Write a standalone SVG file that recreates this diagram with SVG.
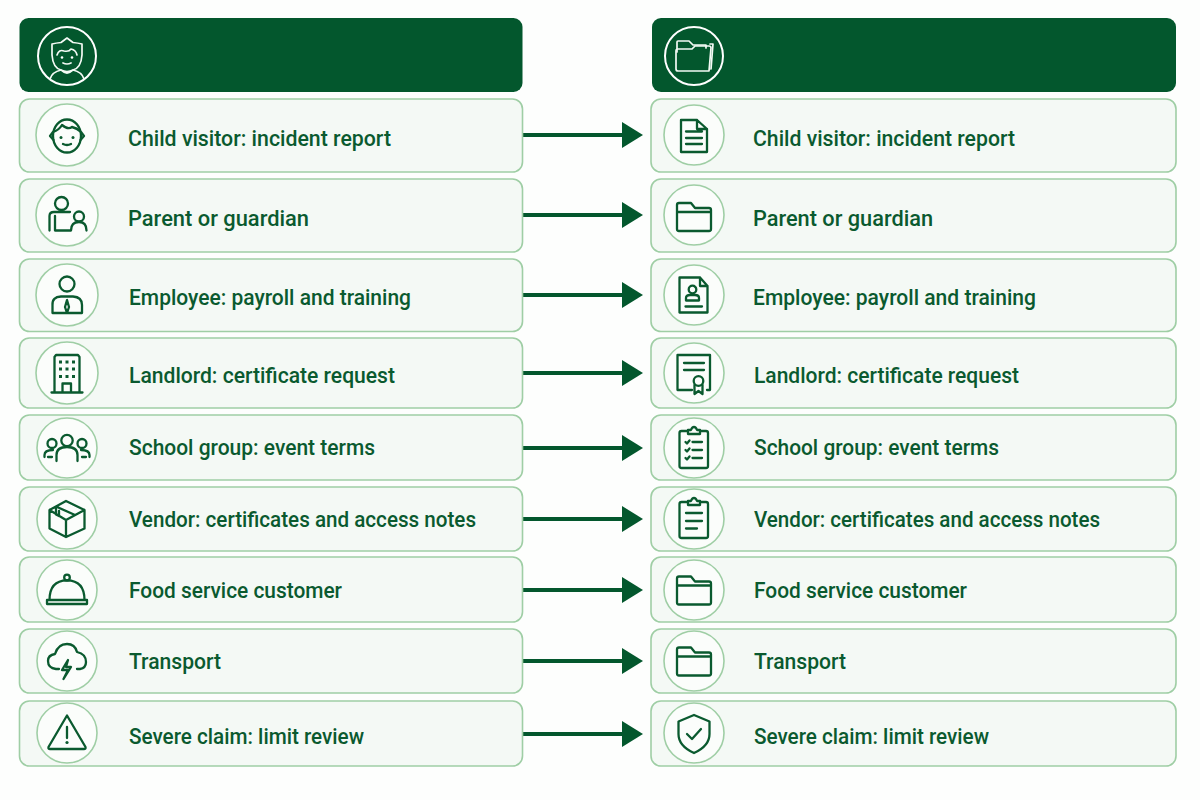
<svg xmlns="http://www.w3.org/2000/svg" width="1200" height="800" viewBox="0 0 1200 800">
<style>
.hdr{fill:#03572d}
.row{fill:#f4f9f5;stroke:#9fcea5;stroke-width:1.600}
.disc{fill:#fbfdfb;stroke:#9fcea5;stroke-width:1.600}
.hdisc{fill:none;stroke:#fff;stroke-width:2}
.ic{fill:none;stroke:#0a5a2f;stroke-width:2.300;stroke-linecap:round;stroke-linejoin:round}
.ih{fill:none;stroke:#f4faf5;stroke-width:1.700;stroke-linecap:round;stroke-linejoin:round}
.dot{fill:#0a5a2f;stroke:none}
.hd{fill:#fff;stroke:none}
.lb{font-family:Roboto,"Liberation Sans",sans-serif;font-weight:500;font-size:22px;fill:#0a5a2f}
.ln{stroke:#03572d;stroke-width:4;fill:none;marker-end:url(#ah)}
</style>
<defs>
<marker id="ah" markerUnits="userSpaceOnUse" markerWidth="21" markerHeight="26" refX="0" refY="13" orient="auto"><path d="M0 0L21 13L0 26Z" fill="#03572d"/></marker>
<g id="folder"><path class="ic" d="M-17 14V-10Q-17 -12 -15 -12H-3L1 -7H15Q17 -7 17 -5V14Q17 16 15 16H-15Q-17 16 -17 14ZM-17 -3H17"/></g>
</defs>
<rect width="1200" height="800" fill="#fdfefd"/>
<g id="connectors">
<path class="ln" d="M523 135H622"/>
<path class="ln" d="M523 215H622"/>
<path class="ln" d="M523 295H622"/>
<path class="ln" d="M523 373H622"/>
<path class="ln" d="M523 448H622"/>
<path class="ln" d="M523 519H622"/>
<path class="ln" d="M523 590H622"/>
<path class="ln" d="M523 661H622"/>
<path class="ln" d="M523 734H622"/>
</g>
<g id="header-left">
<rect class="hdr" x="19.500" y="18" width="503" height="74" rx="9"/>
<circle class="hdisc" cx="67" cy="56" r="29"/>
<g transform="translate(67 56)">
<path class="ih" d="M0 -18L-6 -13.500Q-11 -13 -15 -12V-1Q-14 12 -6 14Q0 17 6 14Q14 12 15 -1V-12Q11 -13 6 -13.500Z"/>
<path class="ih" d="M-10 -1Q-8 -7 -3 -5Q2 -4 4 -7Q9 -6 10 -1"/>
<path class="ih" d="M-4 7Q0 9 4 7"/>
<circle class="hd" cx="-5" cy="1.500" r="1.300"/><circle class="hd" cx="5" cy="1.500" r="1.300"/>
<path class="ih" d="M-17 23Q-15 16 -6 14Q0 20 6 14Q15 16 17 23"/>
</g>
</g>
<g id="header-right">
<rect class="hdr" x="652" y="18" width="524" height="74" rx="9"/>
<circle class="hdisc" cx="694" cy="56" r="29"/>
<g transform="translate(694 56)">
<path class="ih" d="M-17 -4V-14Q-17 -15 -16 -15H-5L-1 -11H12V-8"/>
<path class="ih" d="M-16 15Q-18 15 -18 13V-5Q-18 -7 -16 -7H-2L1 -10H15Q17 -10 17 -8L15 15Z"/>
<path class="ih" d="M16 -12H19L17 13"/>
</g>
</g>
<g id="l1"><rect class="row" x="19.500" y="99" width="503" height="73" rx="10"/><circle class="disc" cx="67" cy="135" r="31"/>
<g transform="translate(67 135)"><ellipse class="ic" cx="0" cy="1" rx="14" ry="16.500"/><path class="ic" d="M-14 -3L-17 1L-13.500 5M14 -3L17 1L13.500 5M-14 -3Q-8 -5 -5 -10Q1 -5 5 -8Q10 -7 14 -3"/><path class="ic" d="M-4 9Q0 11 4 9"/><circle class="dot" cx="-6" cy="2.500" r="1.500"/><circle class="dot" cx="6" cy="2.500" r="1.500"/></g>
<text class="lb" x="128" y="146" textLength="263" lengthAdjust="spacingAndGlyphs">Child visitor: incident report</text></g>
<g id="l2"><rect class="row" x="19.500" y="179" width="503" height="73" rx="10"/><circle class="disc" cx="67" cy="215" r="31"/>
<g transform="translate(67 215)"><circle class="ic" cx="-5.500" cy="-11.500" r="6.500"/><path class="ic" d="M-17.500 15.500V1Q-17.500 -3 -13 -3H3M-12 1V15.500H4M4 15.500Q4 7 12 7Q19.500 7 19.500 15.500"/><circle class="ic" cx="12" cy="1.500" r="5"/></g>
<text class="lb" x="128" y="226" textLength="181" lengthAdjust="spacingAndGlyphs">Parent or guardian</text></g>
<g id="l3"><rect class="row" x="19.500" y="259" width="503" height="72.500" rx="10"/><circle class="disc" cx="67" cy="295" r="31"/>
<g transform="translate(67 295)"><circle class="ic" cx="0" cy="-11" r="7.500"/><path class="ic" d="M-14.500 18H15V10Q15 2 6 1.500H-6Q-15 2 -14.500 10ZM0 5L-2 12L0 18L2 12Z"/></g>
<text class="lb" x="129" y="305" textLength="282" lengthAdjust="spacingAndGlyphs">Employee: payroll and training</text></g>
<g id="l4"><rect class="row" x="19.500" y="338" width="503" height="70" rx="10"/><circle class="disc" cx="67" cy="373" r="31"/>
<g transform="translate(67 373)"><path class="ic" d="M-12.500 19V-16L-11 -18H11L12.500 -16V19M-15.500 19.500H15.500M-4.500 19V10.500H4V19"/>
<g class="dot"><rect x="-8" y="-12.500" width="3" height="3"/><rect x="-1.500" y="-12.500" width="3" height="3"/><rect x="5" y="-12.500" width="3" height="3"/><rect x="-8" y="-5.500" width="3" height="3"/><rect x="-1.500" y="-5.500" width="3" height="3"/><rect x="5" y="-5.500" width="3" height="3"/><rect x="-8" y="2" width="3" height="3"/><rect x="-1.500" y="2" width="3" height="3"/><rect x="5" y="2" width="3" height="3"/></g></g>
<text class="lb" x="129" y="383" textLength="266" lengthAdjust="spacingAndGlyphs">Landlord: certificate request</text></g>
<g id="l5"><rect class="row" x="19.500" y="415" width="503" height="65" rx="10"/><circle class="disc" cx="67" cy="448" r="30"/>
<g transform="translate(67 448)"><circle class="ic" cx="0" cy="-7.500" r="5.700"/><circle class="ic" cx="-15" cy="-4.500" r="4.500"/><circle class="ic" cx="15" cy="-4.500" r="4.500"/><path class="ic" d="M-10.500 13V7Q-10.500 -1 0 -1Q10.500 -1 10.500 7V13M-22.500 9V7Q-22.500 2 -14 2M22.500 9V7Q22.500 2 14 2M-19 9H-15M19 9H15"/></g>
<text class="lb" x="129" y="455" textLength="246" lengthAdjust="spacingAndGlyphs">School group: event terms</text></g>
<g id="l6"><rect class="row" x="19.500" y="487" width="503" height="64" rx="10"/><circle class="disc" cx="67" cy="519" r="30"/>
<g transform="translate(67 519)"><path class="ic" d="M-1 -18L17.500 -9V9.500L-1 18L-17.500 9.500V-9ZM-17.500 -9L-1 1L17.500 -9M-1 1V18M-11 -12.500L8 -4M-11 -12.500V-4.500L-8 -3V-8"/></g>
<text class="lb" x="129" y="527" textLength="347" lengthAdjust="spacingAndGlyphs">Vendor: certificates and access notes</text></g>
<g id="l7"><rect class="row" x="19.500" y="557" width="503" height="65" rx="10"/><circle class="disc" cx="67" cy="590" r="30"/>
<g transform="translate(67 590)"><circle class="ic" cx="0" cy="-12.500" r="2.800"/><path class="ic" d="M-17.500 10Q-17.500 -9.500 0 -9.700Q17.500 -9.500 17.500 10M-20 10H20V14H-20Z"/></g>
<text class="lb" x="129" y="598" textLength="213" lengthAdjust="spacingAndGlyphs">Food service customer</text></g>
<g id="l8"><rect class="row" x="19.500" y="629" width="503" height="64" rx="10"/><circle class="disc" cx="67" cy="661" r="30"/>
<g transform="translate(67 661)"><path class="ic" d="M-8 8H-11Q-19 7 -19 0Q-19 -6 -12 -7Q-9 -17 0 -17Q8 -17 10 -9Q19 -7 19 1Q19 7 13 8H10"/><path class="ic" d="M1 -1L-5 9H1L-3.500 18L4 6H-1Z"/></g>
<text class="lb" x="129" y="669" textLength="92" lengthAdjust="spacingAndGlyphs">Transport</text></g>
<g id="l9"><rect class="row" x="19.500" y="701" width="503" height="65" rx="10"/><circle class="disc" cx="67" cy="733" r="30"/>
<g transform="translate(67 733)"><path class="ic" d="M0 -17.500L-18.500 14Q-19 16 -17 16H17Q19 16 18.500 14Z"/><path class="ic" d="M0 -6V5"/><circle class="dot" cx="0" cy="9.500" r="1.600"/></g>
<text class="lb" x="129" y="744" textLength="235" lengthAdjust="spacingAndGlyphs">Severe claim: limit review</text></g>

<g id="r1"><rect class="row" x="651" y="99" width="525" height="73" rx="10"/><circle class="disc" cx="694" cy="135" r="30"/>
<g transform="translate(694 135)"><path class="ic" d="M-13 -15H3L13 -6V17H-13ZM3 -15V-6H13M-8 -3.500H8M-8 3H8M-8 9H8"/></g>
<text class="lb" x="753" y="146" textLength="262" lengthAdjust="spacingAndGlyphs">Child visitor: incident report</text></g>
<g id="r2"><rect class="row" x="651" y="179" width="525" height="73" rx="10"/><circle class="disc" cx="694" cy="215" r="30"/>
<use href="#folder" x="694" y="215"/>
<text class="lb" x="753" y="226" textLength="180" lengthAdjust="spacingAndGlyphs">Parent or guardian</text></g>
<g id="r3"><rect class="row" x="651" y="259" width="525" height="72.500" rx="10"/><circle class="disc" cx="694" cy="295" r="30"/>
<g transform="translate(694 295)"><path class="ic" d="M-14.500 -17.500H6L13.500 -9V17.500H-14.500ZM6 -17.500V-9H13.500M-8.500 11.500H8"/><circle class="ic" cx="-1.500" cy="-5.500" r="3.800"/><path class="ic" d="M-8 5.500V3Q-8 0 -4 0H1Q5 0 5 3V5.500Z"/></g>
<text class="lb" x="753" y="305" textLength="283" lengthAdjust="spacingAndGlyphs">Employee: payroll and training</text></g>
<g id="r4"><rect class="row" x="651" y="338" width="525" height="70" rx="10"/><circle class="disc" cx="694" cy="373" r="30"/>
<g transform="translate(694 373)"><path class="ic" d="M-2 17H-16.500V-18H16V17H13M-10 -10H10M-10 -3H10"/><circle class="ic" cx="4.500" cy="8" r="4.800"/><path class="ic" d="M0.500 12V21L4.500 18L8.500 21V12"/></g>
<text class="lb" x="754" y="383" textLength="265" lengthAdjust="spacingAndGlyphs">Landlord: certificate request</text></g>
<g id="r5"><rect class="row" x="651" y="415" width="525" height="65" rx="10"/><circle class="disc" cx="694" cy="448" r="30"/>
<g transform="translate(694 448)"><path class="ic" d="M-6 -17H-12.500Q-14.500 -17 -14.500 -15V18Q-14.500 20 -12.500 20H12Q14 20 14 18V-15Q14 -17 12 -17H6"/><path class="ic" d="M-6 -14H6V-18H3Q2 -21 0 -21Q-2 -21 -3 -18H-6ZM-1.500 -6H8M-1.500 2H8M-1.500 10H8M-8.500 -6L-7 -4.500L-4.500 -7.500M-8.500 2L-7 3.500L-4.500 0.500M-8.500 10L-7 11.500L-4.500 8.500"/></g>
<text class="lb" x="754" y="455" textLength="245" lengthAdjust="spacingAndGlyphs">School group: event terms</text></g>
<g id="r6"><rect class="row" x="651" y="487" width="525" height="64" rx="10"/><circle class="disc" cx="694" cy="519" r="30"/>
<g transform="translate(694 519)"><path class="ic" d="M-6 -17H-12.500Q-14.500 -17 -14.500 -15V17Q-14.500 19 -12.500 19H12Q14 19 14 17V-15Q14 -17 12 -17H6"/><path class="ic" d="M-6 -14H6V-18H3Q2 -21 0 -21Q-2 -21 -3 -18H-6ZM-8 -6H8M-8 2H8M-8 9.500H3"/></g>
<text class="lb" x="754" y="527" textLength="346" lengthAdjust="spacingAndGlyphs">Vendor: certificates and access notes</text></g>
<g id="r7"><rect class="row" x="651" y="557" width="525" height="65" rx="10"/><circle class="disc" cx="694" cy="590" r="30"/>
<use href="#folder" x="694" y="588.500"/>
<text class="lb" x="754" y="598" textLength="213" lengthAdjust="spacingAndGlyphs">Food service customer</text></g>
<g id="r8"><rect class="row" x="651" y="629" width="525" height="64" rx="10"/><circle class="disc" cx="694" cy="661" r="30"/>
<use href="#folder" x="694" y="659.500"/>
<text class="lb" x="754" y="669" textLength="92" lengthAdjust="spacingAndGlyphs">Transport</text></g>
<g id="r9"><rect class="row" x="651" y="701" width="525" height="65" rx="10"/><circle class="disc" cx="694" cy="733" r="30"/>
<g transform="translate(694 733)"><path class="ic" d="M0 -18L-15.500 -11.500V1Q-15.500 13 0 20Q15.500 13 15.500 1V-11.500ZM-7 1L-2 6L7 -4"/></g>
<text class="lb" x="754" y="744" textLength="235" lengthAdjust="spacingAndGlyphs">Severe claim: limit review</text></g>
</svg>
